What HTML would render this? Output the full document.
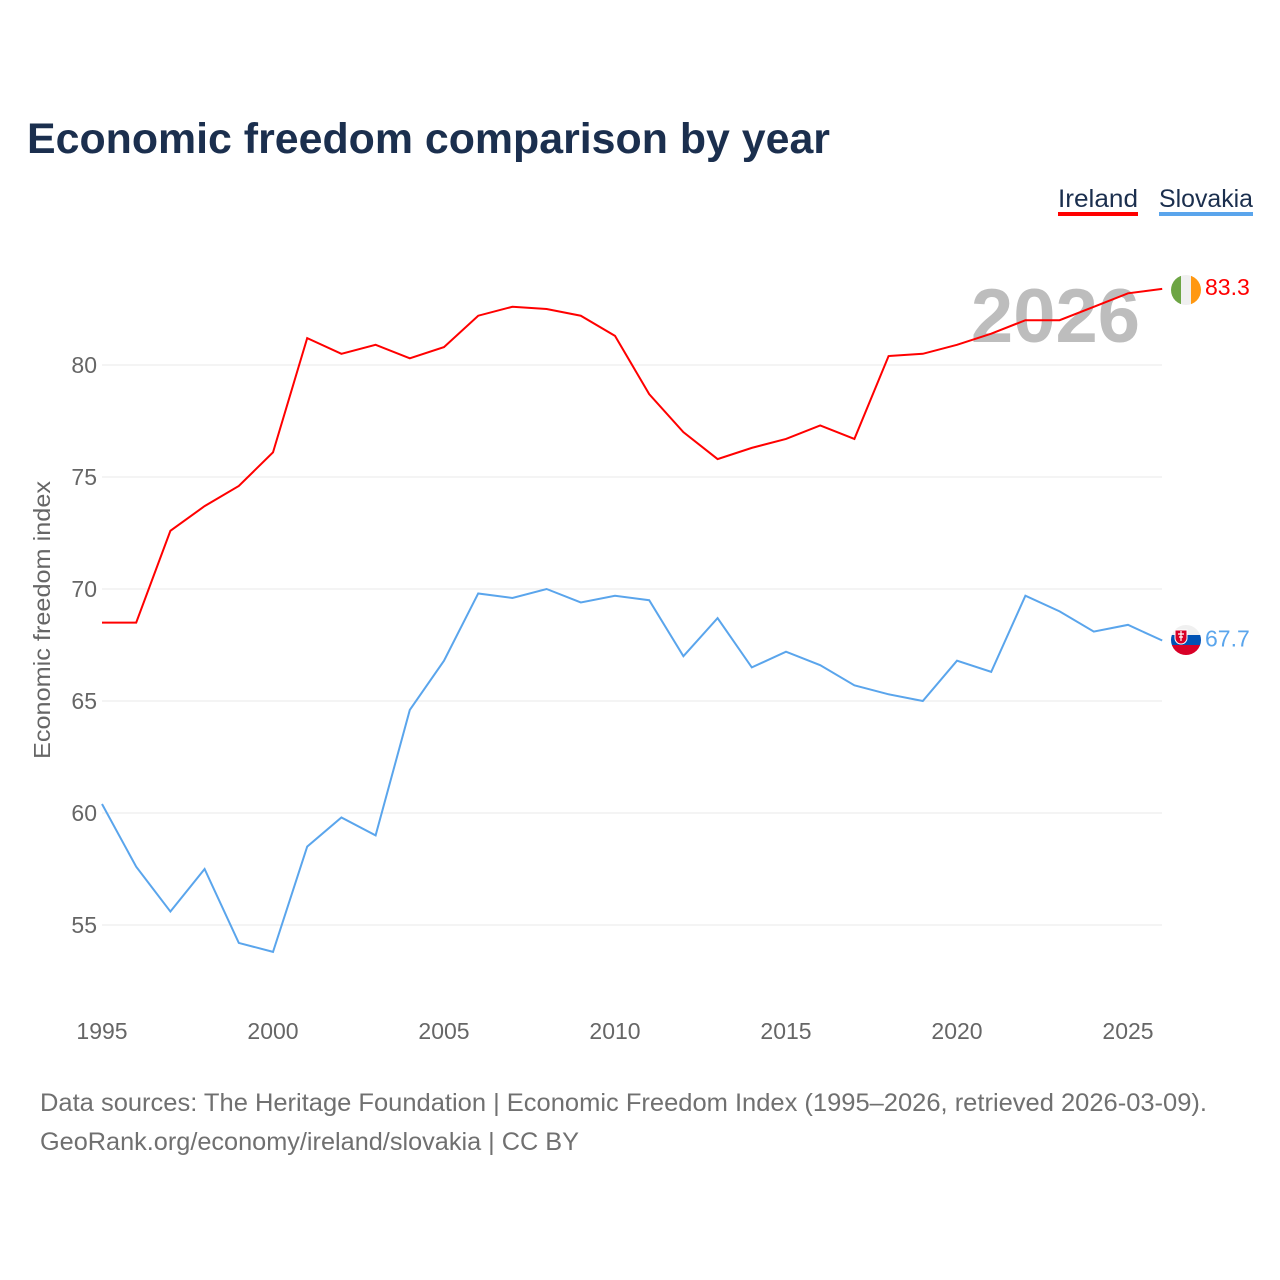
<!DOCTYPE html>
<html><head><meta charset="utf-8"><style>
body{margin:0;background:#fff;}
svg{display:block;font-family:"Liberation Sans",sans-serif;}
</style></head><body>
<svg id="chart" width="1280" height="1280">
<text x="27" y="153" font-size="43" font-weight="bold" fill="#1b2f4e" textLength="803" lengthAdjust="spacingAndGlyphs">Economic freedom comparison by year</text>
<g>
<text x="1058" y="207" font-size="25" fill="#1b2f4e" textLength="80" lengthAdjust="spacingAndGlyphs">Ireland</text>
<rect x="1058" y="212" width="80" height="4" fill="#ff0000"/>
<text x="1159" y="207" font-size="25" fill="#1b2f4e" textLength="94" lengthAdjust="spacingAndGlyphs">Slovakia</text>
<rect x="1159" y="212" width="94" height="4" fill="#5aa5ec"/>
</g>
<text x="1140" y="342" font-size="76" font-weight="bold" fill="#bdbdbd" text-anchor="end">2026</text>
<g id="grid"></g><g id="xticks"></g><g id="lines"></g>
<text transform="translate(50,620) rotate(-90)" font-size="23" fill="#666" text-anchor="middle" textLength="278" lengthAdjust="spacingAndGlyphs">Economic freedom index</text>
<text x="40" y="1111" font-size="25" fill="#707070" textLength="1167" lengthAdjust="spacingAndGlyphs">Data sources: The Heritage Foundation | Economic Freedom Index (1995–2026, retrieved 2026-03-09).</text>
<text x="40" y="1150" font-size="25" fill="#707070" textLength="539" lengthAdjust="spacingAndGlyphs">GeoRank.org/economy/ireland/slovakia | CC BY</text>
<g>
<clipPath id="c1"><circle cx="1186" cy="290" r="15"/></clipPath>
<g clip-path="url(#c1)"><rect x="1171" y="275" width="10" height="30" fill="#6da544"/><rect x="1181" y="275" width="10" height="30" fill="#f0f0f0"/><rect x="1191" y="275" width="10" height="30" fill="#ff9811"/></g></g>
<g>
<clipPath id="c2"><circle cx="1186" cy="640" r="15"/></clipPath>
<g clip-path="url(#c2)"><rect x="1171" y="625" width="30" height="10" fill="#f0f0f0"/><rect x="1171" y="635" width="30" height="10" fill="#0052b4"/><rect x="1171" y="645" width="30" height="10" fill="#d80027"/>
<path d="M1175 630 h12 v8 a6 6 0 0 1 -12 0 z" fill="#d80027" stroke="#fff" stroke-width="1"/>
<path d="M1181 631 v10 M1178 634 h6 M1179 637 h4" stroke="#fff" stroke-width="1.2"/></g></g>
</svg>
<script>
const years=[1995,1996,1997,1998,1999,2000,2001,2002,2003,2004,2005,2006,2007,2008,2009,2010,2011,2012,2013,2014,2015,2016,2017,2018,2019,2020,2021,2022,2023,2024,2025,2026];
const ireland=[68.5,68.5,72.6,73.7,74.6,76.1,81.2,80.5,80.9,80.3,80.8,82.2,82.6,82.5,82.2,81.3,78.7,77.0,75.8,76.3,76.7,77.3,76.7,80.4,80.5,80.9,81.4,82.0,82.0,82.6,83.2,83.4];
const slovakia=[60.4,57.6,55.6,57.5,54.2,53.8,58.5,59.8,59.0,64.6,66.8,69.8,69.6,70.0,69.4,69.7,69.5,67.0,68.7,66.5,67.2,66.6,65.7,65.3,65.0,66.8,66.3,69.7,69.0,68.1,68.4,67.7];
const yTicks=[55,60,65,70,75,80];
const xTicks=[1995,2000,2005,2010,2015,2020,2025];
const NS='http://www.w3.org/2000/svg';
const xs=y=>102+(y-1995)*(1026/30);
const ys=v=>365+(80-v)*22.4;
function mk(t,a,p){const e=document.createElementNS(NS,t);for(const k in a)e.setAttribute(k,a[k]);p.appendChild(e);return e;}
const grid=document.getElementById('grid');
yTicks.forEach(v=>{
 const l=mk('line',{x1:102,x2:1162,y1:ys(v),y2:ys(v),stroke:'#e8e8e8','stroke-width':1},grid);
 
 
 const t=mk('text',{x:97,y:ys(v)+8,'font-size':23,fill:'#666','text-anchor':'end'},grid);t.textContent=v;
 
 
});
const xt=document.getElementById('xticks');
xTicks.forEach(y=>{
 const t=mk('text',{x:xs(y),y:1039,'font-size':23,fill:'#666','text-anchor':'middle'},xt);t.textContent=y;
 
 
});
const lg=document.getElementById('lines');
function series(vals,color,name,label){
 const p=mk('path',{d:vals.map((v,i)=>(i?'L':'M')+xs(years[i])+','+ys(v)).join(''),fill:'none',stroke:color,'stroke-width':2},lg);
 
 
 const last=vals[vals.length-1];
 const t=mk('text',{x:1205,y:ys(last)+6,'font-size':23,fill:color},lg);t.textContent=label;
 
 
}
series(ireland,'#ff0000','ireland','83.3');
series(slovakia,'#5aa5ec','slovakia','67.7');
</script>
</body></html>
